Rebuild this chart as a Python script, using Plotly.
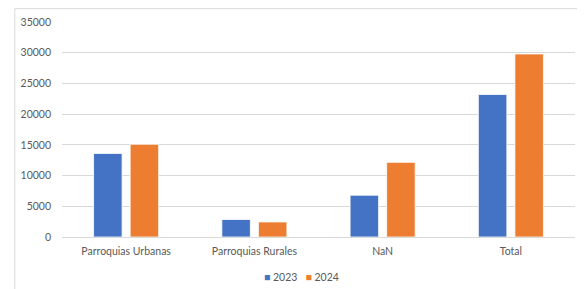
import plotly.graph_objects as go

categories = ["Parroquias Urbanas", "Parroquias Rurales", "NaN", "Total"]
series_names = ["2023", "2024"]
values_2023 = [13600, 2850, 6800, 23200]
values_2024 = [15100, 2450, 12150, 29800]
colors = ["#4472C4", "#ED7D31"]
y_ticks = [0, 5000, 10000, 15000, 20000, 25000, 30000, 35000]

font_family = "Lato, 'Open Sans', sans-serif"
text_color = "#595959"

fig = go.Figure()
for name, vals, col in zip(series_names, [values_2023, values_2024], colors):
    fig.add_trace(go.Bar(name=name, x=categories, y=vals,
                         marker=dict(color=col, line=dict(color="#FFFFFF", width=0.8))))

# compact legend (Excel style) as a text annotation
legend_text = "&nbsp;&nbsp;&nbsp;".join(
    f"<span style='color:{c}'>■</span> {n}" for n, c in zip(series_names, colors))

fig.update_layout(
    width=577, height=281,
    margin=dict(l=54, r=10, t=14, b=52, autoexpand=False),
    paper_bgcolor="white", plot_bgcolor="white",
    barmode="group", bargap=0.43, bargroupgap=0.22,
    font=dict(family=font_family, size=10.5, color=text_color),
    showlegend=False,
    annotations=[dict(text=legend_text, xref="paper", yref="paper",
                      x=0.466, y=-0.186, xanchor="center", yanchor="middle",
                      showarrow=False, font=dict(size=10.5, color=text_color))],
    xaxis=dict(showgrid=False, showline=True, linecolor="#D9D9D9", linewidth=1,
               automargin=False, ticklabelstandoff=4,
               ticks="", tickfont=dict(size=10.5, color=text_color)),
    yaxis=dict(range=[0, 35000], tickvals=y_ticks, ticktext=[str(v) for v in y_ticks],
               automargin=False,
               showgrid=True, gridcolor="#D9D9D9", gridwidth=1,
               zeroline=True, zerolinecolor="#D9D9D9", zerolinewidth=1,
               showline=False, ticks="", ticklen=0, ticklabelstandoff=10,
               tickfont=dict(size=10.5, color=text_color)),
    shapes=[dict(type="rect", xref="paper", yref="paper",
                 x0=-0.092, x1=1.05, y0=-0.3, y1=1.062,
                 line=dict(color="#D9D9D9", width=1), fillcolor="rgba(0,0,0,0)", layer="below")],
)

fig.write_html("out.html")
